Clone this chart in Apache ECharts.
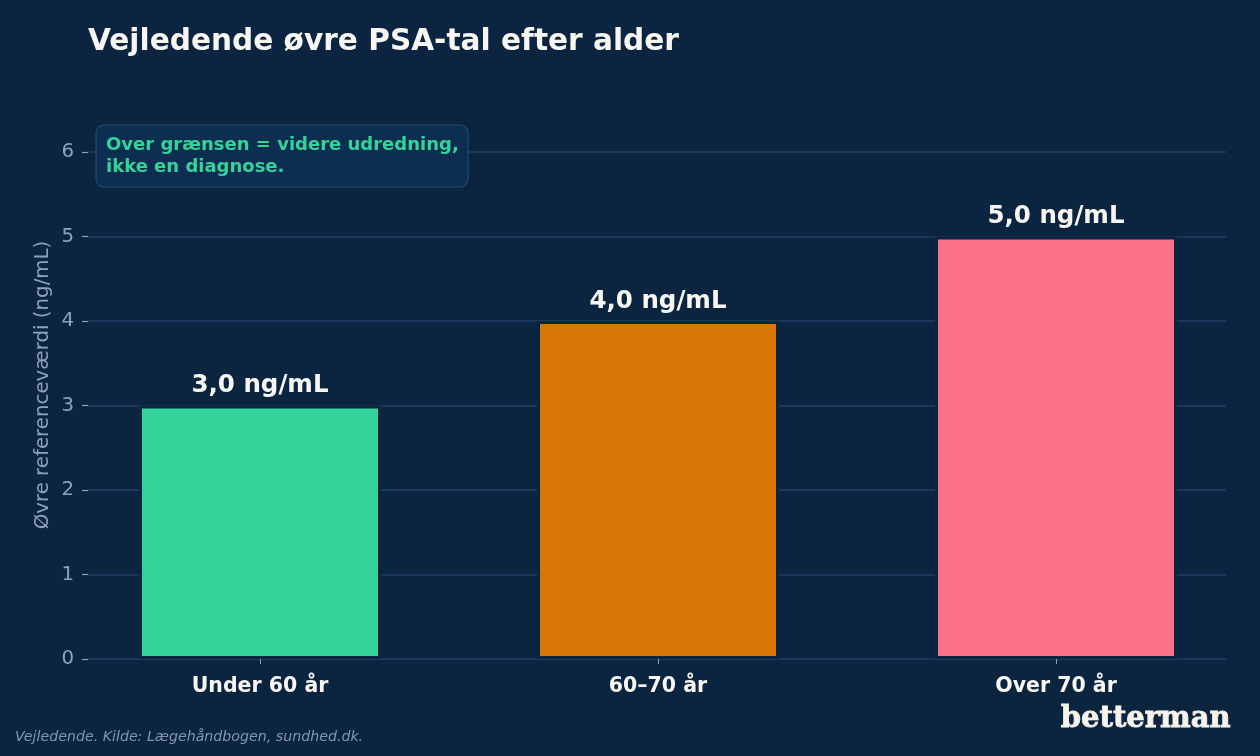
<!DOCTYPE html>
<html>
<head>
<meta charset="utf-8">
<script src="https://cdn.jsdelivr.net/npm/echarts@6/dist/echarts.min.js"></script>
<style>
  html, body { margin: 0; padding: 0; background: #0b2540; }
  #main { width: 1260px; height: 756px; }
</style>
</head>
<body>
<div id="main"></div>
<script>
// data
const ageGroups = ['Under 60 år', '60–70 år', 'Over 70 år'];
const upperPsa = [3.0, 4.0, 5.0];
const barColors = ['#34d399', '#d97706', '#fb7185'];
const yTicks = [0, 1, 2, 3, 4, 5, 6];

const bg = '#0b2540';
const gridColor = '#1f3f66';
const mutedText = '#8fa1b6';
const font = 'DejaVu Sans';

const chart = echarts.init(document.getElementById('main'));

chart.setOption({
  backgroundColor: bg,
  animation: false,
  textStyle: { fontFamily: font },
  title: [
    {
      text: 'Vejledende øvre PSA-tal efter alder',
      left: 83,
      top: 22,
      textStyle: { color: '#f8f6f2', fontSize: 29.6, fontWeight: 'bold', fontFamily: font }
    },
    {
      text: 'Over grænsen = videre udredning,\nikke en diagnose.',
      left: 96,
      top: 125,
      padding: [9, 10, 9, 10],
      backgroundColor: '#0e2e51',
      borderColor: '#1f416a',
      borderWidth: 1.5,
      borderRadius: 8,
      textStyle: { color: '#34d399', fontSize: 18, fontWeight: 'bold', lineHeight: 22, fontFamily: font }
    }
  ],
  grid: [
    { left: 88, right: 34, top: 152, bottom: 97 },
    { left: 61, right: 5, top: 152, bottom: 97 }
  ],
  xAxis: [
    { gridIndex: 0, type: 'value', show: false, min: 0, max: 1 },
    {
      gridIndex: 1,
      type: 'category',
      data: ageGroups,
      axisLine: { show: false },
      axisTick: { show: true, alignWithLabel: true, length: 5, lineStyle: { color: mutedText } },
      axisLabel: { color: '#f8f6f2', fontSize: 20.5, fontWeight: 'bold', margin: 17, fontFamily: font }
    }
  ],
  yAxis: [
    {
      gridIndex: 0,
      type: 'value',
      min: yTicks[0],
      max: yTicks[yTicks.length - 1],
      interval: 1,
      axisLine: { show: false },
      axisTick: { show: true, length: 6, lineStyle: { color: mutedText, width: 1.2 } },
      axisLabel: { color: mutedText, fontSize: 19.8, margin: 14, fontFamily: font },
      splitLine: { show: true, lineStyle: { color: gridColor, width: 1.5 } }
    },
    { gridIndex: 1, type: 'value', show: false, min: 0, max: 6 }
  ],
  series: [
    {
      type: 'bar',
      xAxisIndex: 1,
      yAxisIndex: 1,
      barWidth: 242,
      data: upperPsa.map((v, i) => ({
        value: v,
        itemStyle: { color: barColors[i], borderColor: bg, borderWidth: 3 }
      })),
      label: {
        show: true,
        position: 'top',
        distance: 7,
        color: '#f8f6f2',
        fontSize: 24.5,
        fontWeight: 'bold',
        fontFamily: font,
        formatter: p => p.value.toFixed(1).replace('.', ',') + ' ng/mL'
      }
    }
  ],
  graphic: [
    {
      // y axis title, centred on the full plot height (up to 6.5)
      type: 'text',
      x: 43,
      y: 385,
      rotation: Math.PI / 2,
      style: {
        text: 'Øvre referenceværdi (ng/mL)',
        fill: mutedText,
        font: '19.8px "DejaVu Sans"',
        textAlign: 'center',
        textVerticalAlign: 'middle'
      }
    },
    {
      type: 'text',
      left: 15,
      top: 730,
      style: {
        text: 'Vejledende. Kilde: Lægehåndbogen, sundhed.dk.',
        fill: '#8496ac',
        font: 'italic 14.2px "DejaVu Sans"'
      }
    },
    {
      type: 'text',
      right: 29,
      top: 705,
      style: {
        text: 'betterman',
        fill: '#f7f2ea',
        stroke: '#f7f2ea',
        lineWidth: 0.8,
        font: 'bold 29px "DejaVu Serif"'
      }
    }
  ]
});
</script>
</body>
</html>
